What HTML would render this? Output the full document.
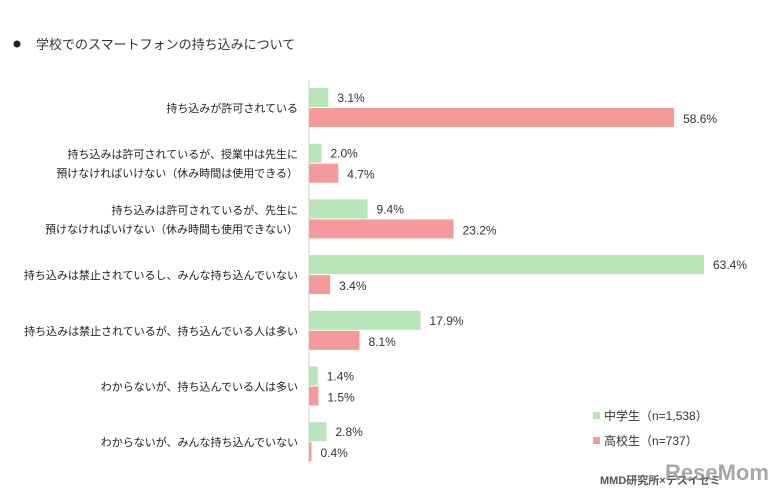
<!DOCTYPE html>
<html><head><meta charset="utf-8"><style>
body{margin:0;background:#fff;font-family:"Liberation Sans","Noto Sans CJK JP",sans-serif;}
#c{position:relative;width:772px;height:492px;overflow:hidden;background:#fff}
</style></head><body>
<div id="c">
<svg width="772" height="492" id="svg">
<circle cx="17" cy="44" r="3.5" fill="#222"/>
<text x="36" y="49" font-size="13" fill="#333">学校でのスマートフォンの持ち込みについて</text>
<line x1="309" y1="80" x2="309" y2="463" stroke="#d0d0d0"/>
<g id="bars"></g>
<rect x="593" y="412" width="7" height="7" fill="#b8e6b8"/>
<text x="604" y="420" font-size="12" fill="#333">中学生（n=1,538）</text>
<rect x="593" y="437" width="7" height="7" fill="#f59a9a"/>
<text x="604" y="445" font-size="12" fill="#333">高校生（n=737）</text>
<text x="600" y="484" font-size="11" font-weight="bold" fill="#555">MMD研究所×テスイセミ</text>
<text x="665" y="480" font-size="22" font-weight="bold" fill="#8a8a8a" opacity="0.75">ReseMom</text>
</svg>
</div>
<script>
const categories=[["持ち込みが許可されている"],["持ち込みは許可されているが、授業中は先生に","預けなければいけない（休み時間は使用できる）"],["持ち込みは許可されているが、先生に","預けなければいけない（休み時間も使用できない）"],["持ち込みは禁止されているし、みんな持ち込んでいない"],["持ち込みは禁止されているが、持ち込んでいる人は多い"],["わからないが、持ち込んでいる人は多い"],["わからないが、みんな持ち込んでいない"]];
const middleSchool=[3.1,2.0,9.4,63.4,17.9,1.4,2.8];
const highSchool=[58.6,4.7,23.2,3.4,8.1,1.5,0.4];
const NS="http://www.w3.org/2000/svg";
const g=document.getElementById('bars');
const x0=309,scale=6.23;
function xs(v){return v*scale;}
function yg(i){return 88+i*55.7;}
function mk(t,a){const e=document.createElementNS(NS,t);for(const k in a)e.setAttribute(k,a[k]);g.appendChild(e);return e;}
categories.forEach((lab,i)=>{
  const y=yg(i);
  const b1=mk('rect',{x:x0,y:y,width:xs(middleSchool[i]),height:19,fill:'#b8e6b8'});
  
  
  const b2=mk('rect',{x:x0,y:y+20,width:xs(highSchool[i]),height:19,fill:'#f59a9a'});
  
  
  const t1=mk('text',{x:x0+xs(middleSchool[i])+9,y:y+14,'font-size':12,fill:'#333'});
  t1.textContent=middleSchool[i].toFixed(1)+'%';
  
  
  const t2=mk('text',{x:x0+xs(highSchool[i])+9,y:y+35,'font-size':12,fill:'#333'});
  t2.textContent=highSchool[i].toFixed(1)+'%';
  
  
  const cy=y+20;
  lab.forEach((l,j)=>{
    const t=mk('text',{x:298,y:cy+4+(j-(lab.length-1)/2)*19,'font-size':11,fill:'#222','text-anchor':'end'});
    t.textContent=l;
    
    
  });
});
</script>
</body></html>
